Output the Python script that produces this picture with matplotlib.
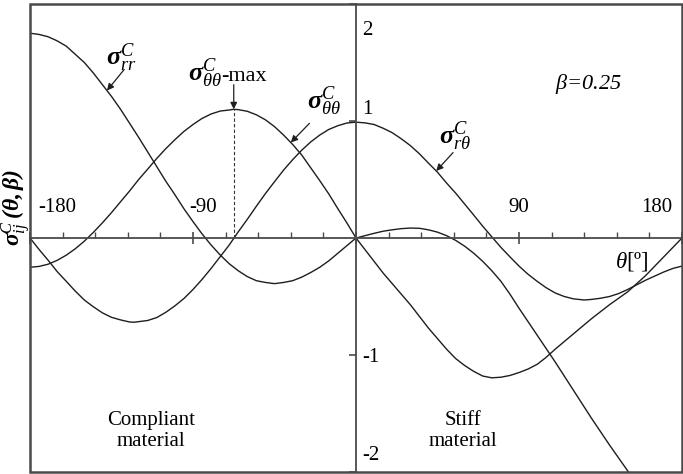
import numpy as np
import matplotlib
matplotlib.use("Agg")
import matplotlib.pyplot as plt
from matplotlib.patches import Rectangle
from matplotlib.ticker import MultipleLocator

plt.rcParams['font.family'] = 'Liberation Serif'
plt.rcParams['mathtext.fontset'] = 'custom'
plt.rcParams['mathtext.rm'] = 'Liberation Serif'
plt.rcParams['mathtext.it'] = 'Liberation Serif:italic'
plt.rcParams['mathtext.bf'] = 'Liberation Serif:bold:italic'

# angular stress distributions, compliant side (theta<0) then stiff side (theta>0)
theta_rr = [-180, -175, -170, -165, -160, -155, -150, -145, -140, -135, -130, -125, -120, -115,
            -110, -105, -100, -95, -90, -85, -80, -75, -70, -65, -60, -55, -50, -45, -40, -35,
            -30, -25, -20, -15, -10, -5, 0,
            5, 10, 15, 20, 25, 30, 35, 40, 45, 50, 55, 60, 65, 70, 75, 80, 85, 90, 95, 100, 105,
            110, 120, 130, 140, 150, 160]
sigma_rr = [1.75, 1.74, 1.72, 1.685, 1.64, 1.57, 1.50, 1.41, 1.31, 1.21, 1.10, 0.98, 0.86, 0.735,
            0.61, 0.485, 0.37, 0.25, 0.14, 0.035, -0.06, -0.145, -0.22, -0.28, -0.33, -0.365, -0.38, -0.39,
            -0.38, -0.365, -0.335, -0.295, -0.25, -0.195, -0.13, -0.065, 0.0,
            0.02, 0.04, 0.058, 0.07, 0.08, 0.085, 0.083, 0.07, 0.05, 0.02, -0.02, -0.07, -0.13, -0.20,
            -0.28, -0.37, -0.48, -0.60, -0.715, -0.83, -0.945, -1.06, -1.30, -1.54, -1.77, -1.99, -2.2]

theta_tt = [-180, -175, -170, -165, -160, -155, -150, -145, -140, -135, -130, -125, -120, -115,
            -110, -105, -100, -95, -90, -85, -80, -75, -70, -67.5, -65, -60, -55, -50, -45, -40,
            -35, -30, -25, -20, -15, -10, -5, 0,
            5, 10, 15, 20, 25, 30, 35, 40, 45, 50, 55, 60, 65, 70, 75, 80, 85, 90, 95, 100, 105,
            110, 115, 120, 130, 140, 150, 160, 170, 180]
sigma_tt = [-0.25, -0.243, -0.224, -0.191, -0.147, -0.092, -0.027, 0.048, 0.13, 0.217, 0.31, 0.402,
            0.50, 0.589, 0.68, 0.764, 0.84, 0.911, 0.97, 1.022, 1.06, 1.085, 1.094, 1.10, 1.097, 1.083,
            1.053, 1.01, 0.952, 0.88, 0.80, 0.71, 0.60, 0.49, 0.376, 0.25, 0.128, 0.0,
            -0.10, -0.20, -0.30, -0.39, -0.48, -0.57, -0.67, -0.77, -0.86, -0.95, -1.03, -1.09, -1.14,
            -1.18, -1.195, -1.19, -1.175, -1.15, -1.12, -1.08, -1.02, -0.95, -0.885, -0.82, -0.69,
            -0.57, -0.46, -0.32, -0.16, 0.0]

theta_rt = [-180, -175, -170, -165, -160, -155, -150, -145, -140, -135, -130, -125, -122.5, -120,
            -115, -110, -105, -100, -95, -90, -85, -80, -75, -70, -65, -60, -55, -50, -45, -40,
            -35, -30, -25, -20, -15, -10, -5, 0,
            5, 10, 15, 20, 25, 30, 35, 40, 45, 50, 55, 60, 65, 70, 75, 80, 85, 90, 95, 100, 105,
            110, 115, 120, 126, 130, 135, 140, 145, 150, 155, 160, 165, 170, 175, 180]
sigma_rt = [0.0, -0.098, -0.19, -0.287, -0.37, -0.454, -0.53, -0.588, -0.64, -0.678, -0.70, -0.718,
            -0.72, -0.715, -0.705, -0.68, -0.635, -0.58, -0.517, -0.44, -0.354, -0.26, -0.16, -0.06,
            0.053, 0.16, 0.272, 0.38, 0.481, 0.58, 0.669, 0.75, 0.821, 0.88, 0.928, 0.96, 0.983, 0.99,
            0.984, 0.97, 0.938, 0.90, 0.848, 0.79, 0.72, 0.64, 0.562, 0.47, 0.384, 0.29, 0.196, 0.10,
            0.01, -0.08, -0.161, -0.24, -0.31, -0.37, -0.425, -0.47, -0.50, -0.52, -0.53, -0.525,
            -0.515, -0.50, -0.475, -0.44, -0.40, -0.36, -0.325, -0.29, -0.26, -0.24]

x_tick_text = ['-180', '-90', '90', '180']
x_text_pos = [-165.2, -84.3, 89.7, 165.8]
y_tick_text = ['2', '1', '-1', '-2']
y_text_pos = [1.77, 1.10, -1.02, -1.86]

line_c = '#1e1e1e'
axis_c = '#4a4a4a'

fig = plt.figure(figsize=(6.83, 4.74), dpi=100)
ax = fig.add_axes([30 / 683, 2 / 474, 652 / 683, 468 / 474])
ax.set_xlim(-180, 176.7)
ax.set_ylim(-1.983, 1.983)

for th, s in [(theta_rr, sigma_rr), (theta_tt, sigma_tt), (theta_rt, sigma_rt)]:
    ax.plot(th, s, color=line_c, lw=1.0)

# axes crossing at the origin, boxed frame around the plot
ax.spines['left'].set_position(('data', 0))
ax.spines['bottom'].set_position(('data', 0))
ax.spines['top'].set_visible(False)
ax.spines['right'].set_visible(False)
for sp in ['left', 'bottom']:
    ax.spines[sp].set_color(axis_c)
    ax.spines[sp].set_linewidth(1.3)
ax.add_patch(Rectangle((0, 0), 1, 1, transform=ax.transAxes, fill=False,
                       lw=1.8, ec=axis_c, clip_on=False, zorder=5))

ax.set_xticks([-180, -90, 0, 90, 180])
ax.xaxis.set_minor_locator(MultipleLocator(18))
ax.set_yticks([-2, -1, 1, 2])
ax.set_xticklabels([])
ax.set_yticklabels([])
ax.tick_params(axis='x', which='major', direction='inout', length=9, width=1.2, color=axis_c)
ax.tick_params(axis='x', which='minor', direction='in', length=4, width=1.0, color=axis_c)
ax.tick_params(axis='y', which='major', direction='out', length=5, width=1.2, color=axis_c)

for lab, xp in zip(x_tick_text, x_text_pos):
    ax.text(xp, 0.26, lab, ha='center', va='center', fontsize=15)
for lab, yp in zip(y_tick_text, y_text_pos):
    ax.text(3.5, yp, lab, ha='left', va='center', fontsize=15)

# location of the sigma_theta-theta peak on the compliant side
n_left = theta_tt.index(0) + 1
i_max = int(np.argmax(sigma_tt[:n_left]))
th_max, s_max = theta_tt[i_max], sigma_tt[i_max]
ax.vlines(th_max, 0, s_max, colors='#333333', linestyles=(0, (3, 2)), lw=0.8)

arrow = dict(arrowstyle='-|>', color=line_c, lw=0.9, mutation_scale=10, shrinkA=0, shrinkB=0)

ax.text(-138, 1.48, r'$\mathbf{\sigma}^{C}_{rr}$', fontsize=19, ha='left', va='baseline')
ax.annotate('', xy=(-137.5, np.interp(-137.5, theta_rr, sigma_rr)), xytext=(-128, 1.44), arrowprops=arrow)

ax.text(-92.8, 1.34, r'$\mathbf{\sigma}^{C}_{\theta\theta}$', fontsize=19, ha='left', va='baseline')
ax.text(-74.2, 1.34, '-max', fontsize=16, ha='left', va='baseline')
ax.annotate('', xy=(th_max, s_max), xytext=(th_max, 1.31), arrowprops=arrow)

ax.text(-26.8, 1.10, r'$\mathbf{\sigma}^{C}_{\theta\theta}$', fontsize=19, ha='left', va='baseline')
ax.annotate('', xy=(-36, np.interp(-36, theta_tt, sigma_tt)), xytext=(-25.7, 0.98), arrowprops=arrow)

ax.text(46, 0.80, r'$\mathbf{\sigma}^{C}_{r\theta}$', fontsize=19, ha='left', va='baseline')
ax.annotate('', xy=(44.3, np.interp(44.3, theta_rt, sigma_rt)), xytext=(53.6, 0.73), arrowprops=arrow)

ax.text(110, 1.27, r'$\beta$=0.25', fontsize=16, ha='left', va='baseline', style='italic')
ax.text(142.8, -0.25, r'$\theta$[º]', fontsize=16.5, ha='left', va='baseline')

ax.text(-113.3, -1.65, 'Compliant\nmaterial', ha='center', va='center', fontsize=15, linespacing=1.15)
ax.text(59.1, -1.65, 'Stiff\nmaterial', ha='center', va='center', fontsize=15, linespacing=1.15)

fig.text(16 / 683, 1 - 207 / 474, r'$\mathbf{\sigma}^{C}_{ij}\,\mathbf{(\theta,\beta)}$',
         rotation=90, ha='center', va='center', fontsize=17)

fig.savefig('out.png', dpi=100)
